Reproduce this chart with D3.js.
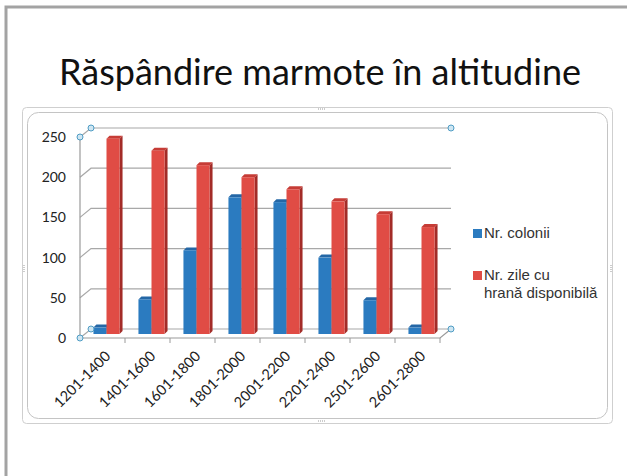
<!DOCTYPE html>
<html>
<head>
<meta charset="utf-8">
<script src="https://cdn.jsdelivr.net/npm/d3@7"></script>
<style>
  body { margin: 0; background: #fff; }
  svg { display: block; }
</style>
</head>
<body>
<svg id="chart" width="627" height="476"></svg>
<script>
// data
var categories = ["1201-1400", "1401-1600", "1601-1800", "1801-2000", "2001-2200", "2201-2400", "2501-2600", "2601-2800"];
var colonii = [8, 43, 104, 170, 164, 95, 42, 8];
var zileHrana = [243, 228, 210, 195, 180, 165, 149, 133];
var seriesNames = ["Nr. colonii", "Nr. zile cu hrană disponibilă"];
var yTicks = [0, 50, 100, 150, 200, 250];

var svg = d3.select("#chart");

// slide frame
svg.append("path")
    .attr("d", "M6,476 L6,7 L627,7")
    .attr("fill", "none")
    .attr("stroke", "#a3a3a3")
    .attr("stroke-width", 3);

// title
svg.append("text")
    .attr("x", 320)
    .attr("y", 85)
    .attr("text-anchor", "middle")
    .style("font-family", "Lato, 'Open Sans', sans-serif")
    .style("font-size", "36px")
    .style("fill", "#111")
    .text("Răspândire marmote în altitudine");

// chart object frame
svg.append("rect")
    .attr("x", 22.5).attr("y", 107.5)
    .attr("width", 590).attr("height", 316)
    .attr("rx", 4)
    .attr("fill", "#fff")
    .attr("stroke", "#cfcfcf");
svg.append("rect")
    .attr("x", 27.5).attr("y", 112.5)
    .attr("width", 580).attr("height", 306)
    .attr("rx", 11)
    .attr("fill", "#fff")
    .attr("stroke", "#c4c4c4");

// handle dots
var handles = [[318, 109, 0], [318, 421, 0], [24, 265, 1], [611, 265, 1]];
handles.forEach(function(h) {
    for (var i = 0; i < 4; i++) {
        svg.append("rect")
            .attr("x", h[2] ? h[0] - 0.5 : h[0] + i * 2)
            .attr("y", h[2] ? h[1] + i * 2 : h[1] - 0.5)
            .attr("width", 1).attr("height", 1)
            .attr("fill", "#999");
    }
});

// 3d geometry
var x0 = 80, x1 = 440;
var depthX = 11, depthY = -9;
var y = d3.scaleLinear().domain([0, 250]).range([338, 137]);

var xBand = d3.scaleBand()
    .domain(categories)
    .range([x0, x1])
    .paddingInner(0.42)
    .paddingOuter(0.21);

var xSeries = d3.scaleBand()
    .domain([0, 1])
    .range([0, xBand.bandwidth()]);

var g = svg.append("g");

// gridlines on back wall + side wall
yTicks.forEach(function(v) {
    var yy = y(v);
    g.append("path")
        .attr("d", "M" + x0 + "," + yy + " L" + (x0 + depthX) + "," + (yy + depthY) + " L" + (x1 + depthX) + "," + (yy + depthY))
        .attr("fill", "none")
        .attr("stroke", "#a8a8a8")
        .attr("stroke-width", 1.2);
});

// floor front edge
g.append("path")
    .attr("d", "M" + x0 + "," + y(0) + " L" + x1 + "," + y(0) + " L" + (x1 + depthX) + "," + (y(0) + depthY))
    .attr("fill", "none")
    .attr("stroke", "#9a9a9a")
    .attr("stroke-width", 1.2);

// y axis line
g.append("line")
    .attr("x1", x0).attr("x2", x0)
    .attr("y1", y(0)).attr("y2", y(250))
    .attr("stroke", "#9a9a9a")
    .attr("stroke-width", 1.2);

// x ticks at category boundaries
d3.range(1, categories.length + 1).forEach(function(i) {
    var xx = x0 + i * xBand.step();
    g.append("line")
        .attr("x1", xx).attr("x2", xx)
        .attr("y1", y(0)).attr("y2", y(0) + 5)
        .attr("stroke", "#9a9a9a");
});

// y labels
g.selectAll(".ylab")
    .data(yTicks)
    .enter()
    .append("text")
    .attr("x", 66)
    .attr("y", function(d) { return y(d); })
    .attr("dy", "0.35em")
    .attr("text-anchor", "end")
    .style("font-family", "Lato, 'Open Sans', sans-serif")
    .style("font-size", "14px")
    .style("fill", "#222")
    .text(function(d) { return d; });

// x labels, rotated
g.selectAll(".xlab")
    .data(categories)
    .enter()
    .append("text")
    .attr("transform", function(d) {
        return "translate(" + (xBand(d) + xBand.bandwidth() / 2 + 9) + "," + (y(0) + 19) + ") rotate(-45)";
    })
    .attr("text-anchor", "end")
    .style("font-family", "Lato, 'Open Sans', sans-serif")
    .style("font-size", "14.5px")
    .style("fill", "#222")
    .text(function(d) { return d; });

// bars
var barOffX = 4, barOffY = -4, bd = 3;
var styles = [
    { front: "#2b7bc0", top: "#2467a6", side: "#1d5a90" },
    { front: "#e04c45", top: "#c63c36", side: "#a32c28" }
];
var allSeries = [colonii, zileHrana];

allSeries.forEach(function(vals, s) {
    var st = styles[s];
    var bars = g.selectAll(".bar" + s)
        .data(categories.map(function(c, i) { return { c: c, v: vals[i] }; }))
        .enter()
        .append("g");

    bars.each(function(d) {
        var bx = xBand(d.c) + xSeries(s) + barOffX;
        var bw = xSeries.bandwidth();
        var yb = y(0) + barOffY;
        var yt = y(d.v) + barOffY;
        var sel = d3.select(this);
        // side
        sel.append("path")
            .attr("d", "M" + (bx + bw) + "," + yt + " L" + (bx + bw + bd) + "," + (yt - bd) +
                " L" + (bx + bw + bd) + "," + (yb - bd) + " L" + (bx + bw) + "," + yb + "Z")
            .attr("fill", st.side);
        // top
        sel.append("path")
            .attr("d", "M" + bx + "," + yt + " L" + (bx + bd) + "," + (yt - bd) +
                " L" + (bx + bw + bd) + "," + (yt - bd) + " L" + (bx + bw) + "," + yt + "Z")
            .attr("fill", st.top);
        // front
        sel.append("rect")
            .attr("x", bx)
            .attr("y", yt)
            .attr("width", bw)
            .attr("height", yb - yt)
            .attr("fill", st.front);
    });
});

// selection handles on the plot corners
var corners = [
    [x0, y(250)], [x0 + depthX, y(250) + depthY], [x1 + depthX, y(250) + depthY],
    [x0, y(0)], [x0 + depthX, y(0) + depthY], [x1 + depthX, y(0) + depthY]
];
g.selectAll(".handle")
    .data(corners)
    .enter()
    .append("circle")
    .attr("cx", function(d) { return d[0]; })
    .attr("cy", function(d) { return d[1]; })
    .attr("r", 3)
    .attr("fill", "#cfe6f2")
    .attr("stroke", "#4f9cc4")
    .attr("stroke-width", 1);

// legend
var legend = svg.append("g");
var legendRows = [
    { lines: ["Nr. colonii"], y: 238, color: styles[0].front },
    { lines: ["Nr. zile cu", "hrană disponibilă"], y: 280, color: styles[1].front }
];
legendRows.forEach(function(r) {
    legend.append("rect")
        .attr("x", 473).attr("y", r.y - 9)
        .attr("width", 9).attr("height", 9)
        .attr("fill", r.color);
    var t = legend.append("text")
        .attr("x", 484)
        .attr("y", r.y)
        .style("font-family", "'Liberation Sans', Arial, sans-serif")
        .style("font-size", "15px")
        .style("fill", "#333");
    r.lines.forEach(function(l, i) {
        t.append("tspan")
            .attr("x", 484)
            .attr("dy", i === 0 ? 0 : 18)
            .text(l);
    });
});
</script>
</body>
</html>
